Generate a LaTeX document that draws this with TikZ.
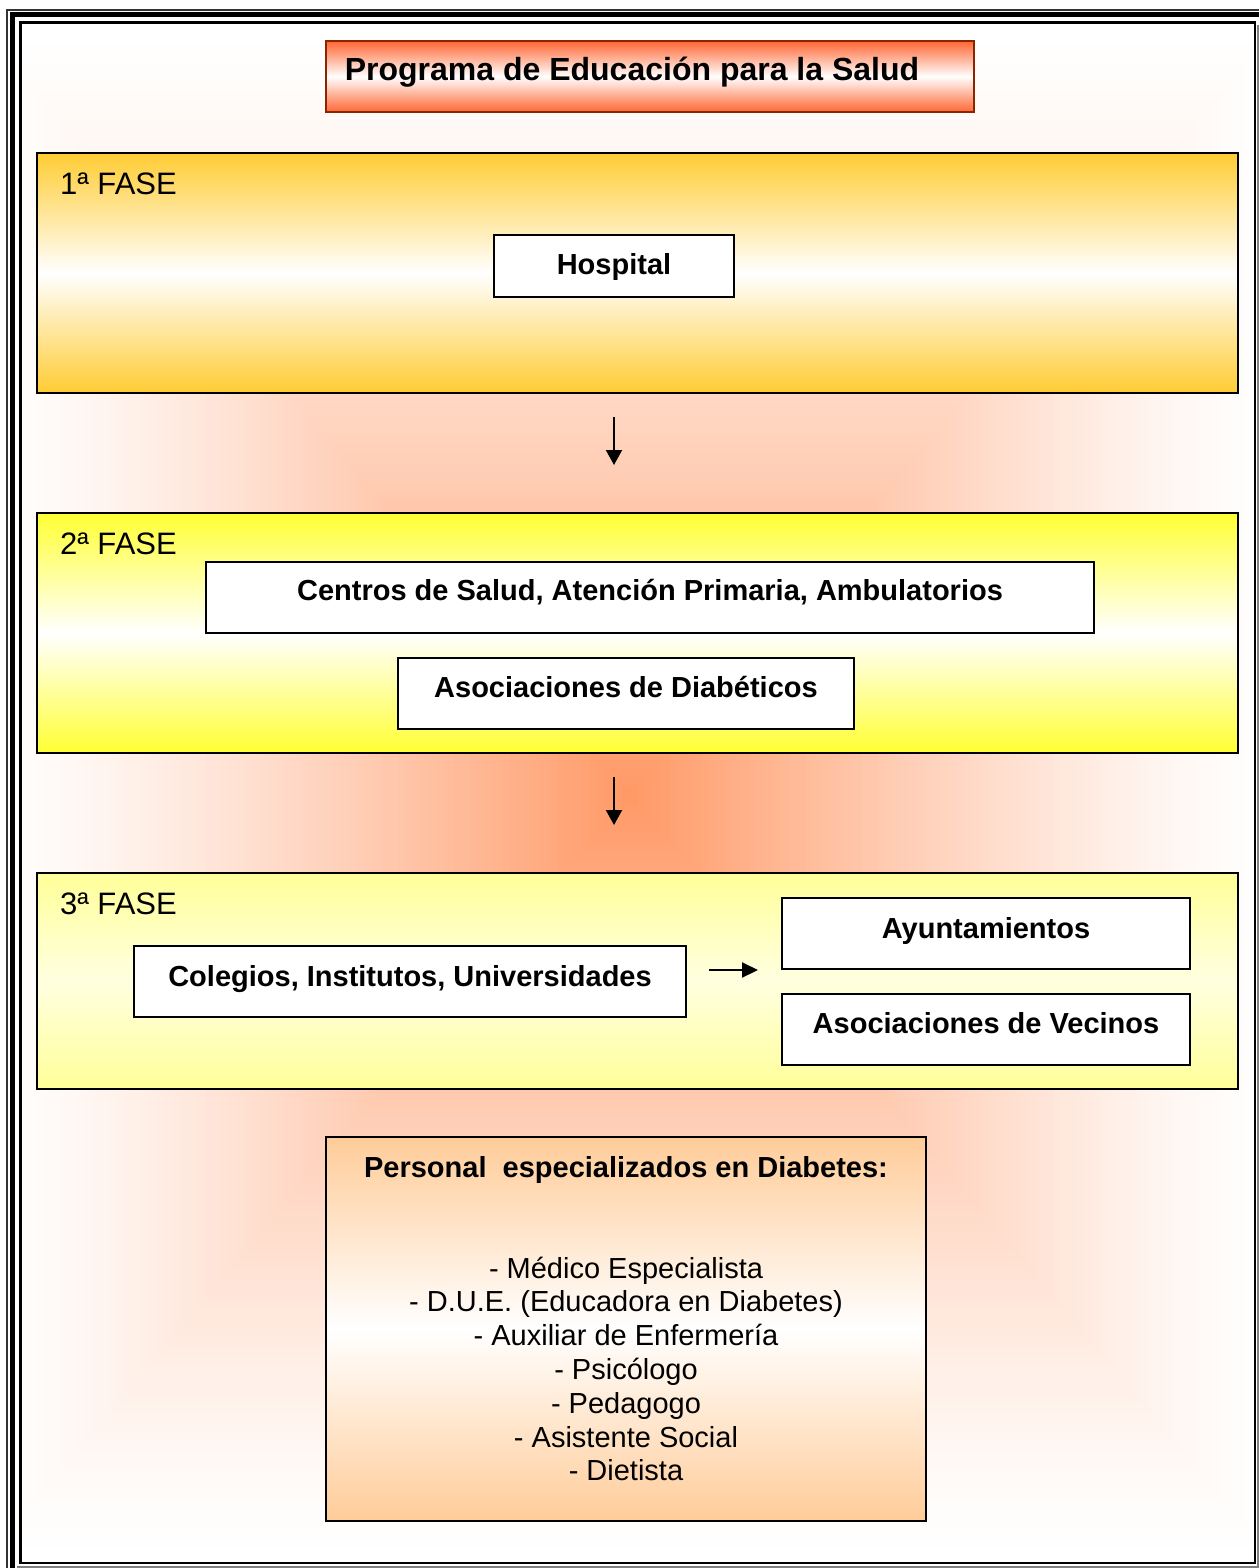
\documentclass[tikz,border=0pt]{standalone}
\usepackage{fontspec}
\setmainfont{Liberation Sans}
\usetikzlibrary{arrows.meta}

\definecolor{glow}{HTML}{FF9966}
\definecolor{gold}{HTML}{FFCC33}
\definecolor{brightyellow}{HTML}{FFFF33}
\definecolor{paleyellow}{HTML}{FFFF99}
\definecolor{titlered}{HTML}{FF6633}
\definecolor{titleedge}{HTML}{8B2500}
\definecolor{peach}{HTML}{FFCC99}

\tikzset{
  phasebox/.style={draw=black, line width=2pt, inner sep=0pt},
  whitebox/.style={draw=black, line width=2pt, fill=white, inner sep=0pt},
  phasetext/.style={inner sep=0pt, font=\fontsize{31pt}{36pt}\selectfont, anchor=base west},
  boxtext/.style={inner sep=0pt, font=\bfseries\fontsize{29pt}{34pt}\selectfont, anchor=base},
  titletext/.style={inner sep=0pt, font=\bfseries\fontsize{32pt}{38pt}\selectfont, anchor=base},
  listtext/.style={inner sep=0pt, font=\fontsize{29pt}{34pt}\selectfont, anchor=base},
  flow/.style={line width=2pt, -{Triangle[width=16pt,length=15pt]}},
}

\begin{document}
\begin{tikzpicture}[x=1pt,y=-1pt]
\useasboundingbox (0,0) rectangle (1259,1568);
\fill[white] (0,0) rectangle (1259,1568);

% soft orange glow behind the whole scheme (rectangular gradient)
\begin{scope}
  \clip (21,23) rectangle (1254,1562);
  \foreach \i in {0,...,79}{
    \pgfmathsetmacro\s{1-\i/80}
    \pgfmathsetmacro\p{100*((\i+0.5)/80)^1.3}
    \fill[glow!\p!white] ({630-640*\s},{795-760*\s}) rectangle ({630+640*\s},{795+760*\s});
  }
\end{scope}

% title
\node[draw=titleedge, line width=1.5pt, inner sep=0pt, minimum width=648pt, minimum height=71pt,
      top color=titlered, bottom color=titlered, middle color=white] (titulo) at (650,76.5) {};
\node[titletext] (tituloT) at (632,81) {Programa de Educación para la Salud};

% phase 1
\node[phasebox, minimum width=1201pt, minimum height=240pt,
      top color=gold, bottom color=gold, middle color=white] (fase1) at (637.5,273) {};
\node[phasetext] (fase1T) at (60,194) {1ª FASE};
\node[whitebox, minimum width=240pt, minimum height=62pt] (hospital) at (614,266) {};
\node[boxtext] (hospitalT) at (614,274) {Hospital};

% phase 2
\node[phasebox, minimum width=1201pt, minimum height=240pt,
      top color=brightyellow, bottom color=brightyellow, middle color=white] (fase2) at (637.5,633) {};
\node[phasetext] (fase2T) at (60,554) {2ª FASE};
\node[whitebox, minimum width=888pt, minimum height=71pt] (centros) at (650,597.5) {};
\node[boxtext] (centrosT) at (650,600) {Centros de Salud, Atención Primaria, Ambulatorios};
\node[whitebox, minimum width=456pt, minimum height=71pt] (asocdiab) at (626,693.5) {};
\node[boxtext] (asocdiabT) at (626,697) {Asociaciones de Diabéticos};

% phase 3
\node[phasebox, minimum width=1201pt, minimum height=216pt,
      top color=paleyellow, bottom color=paleyellow, middle color=yellow!12] (fase3) at (637.5,981) {};
\node[phasetext] (fase3T) at (60,914) {3ª FASE};
\node[whitebox, minimum width=552pt, minimum height=71pt] (colegios) at (410,981.5) {};
\node[boxtext] (colegiosT) at (410,986) {Colegios, Institutos, Universidades};
\node[whitebox, minimum width=408pt, minimum height=71pt] (ayunt) at (986,933.5) {};
\node[boxtext] (ayuntT) at (986,938) {Ayuntamientos};
\node[whitebox, minimum width=408pt, minimum height=71pt] (vecinos) at (986,1029.5) {};
\node[boxtext] (vecinosT) at (986,1033) {Asociaciones de Vecinos};

% staff box
\node[draw=black, line width=2pt, inner sep=0pt, minimum width=600pt, minimum height=384pt,
      top color=peach, bottom color=peach, middle color=white] (personal) at (626,1329) {};
\node[boxtext] (personalT) at (626,1177) {Personal\ \ especializados en Diabetes:};
\foreach \t [count=\k] in {{- Médico Especialista},{- D.U.E. (Educadora en Diabetes)},
    {- Auxiliar de Enfermería},{- Psicólogo},{- Pedagogo},{- Asistente Social},{- Dietista}}{
  \node[listtext] (lista\k) at (626,{1278+33.8*(\k-1)}) {\t};
}

% arrows
\coordinate (a1s) at (614,417);
\coordinate (a1e) at (614,465);
\coordinate (a2s) at (614,777);
\coordinate (a2e) at (614,825);
\coordinate (a3s) at (709,970);
\coordinate (a3e) at (758,970);
\draw[flow] (a1s) -- (a1e);
\draw[flow] (a2s) -- (a2e);
\draw[line width=2pt, -{Triangle[width=15pt,length=16pt]}] (a3s) -- (a3e);

% page frame
\draw[line width=2.5pt] (20.5,22.5) rectangle (1255,1563);
\draw[line width=5pt] (12.5,1568) -- (12.5,15) -- (1259,15);
\draw[line width=1.5pt, black!80] (7,1568) -- (7,10) -- (1259,10);
\draw[line width=1.5pt, black!50] (17,1567) -- (1258,1567) -- (1258,25);
\end{tikzpicture}
\end{document}
